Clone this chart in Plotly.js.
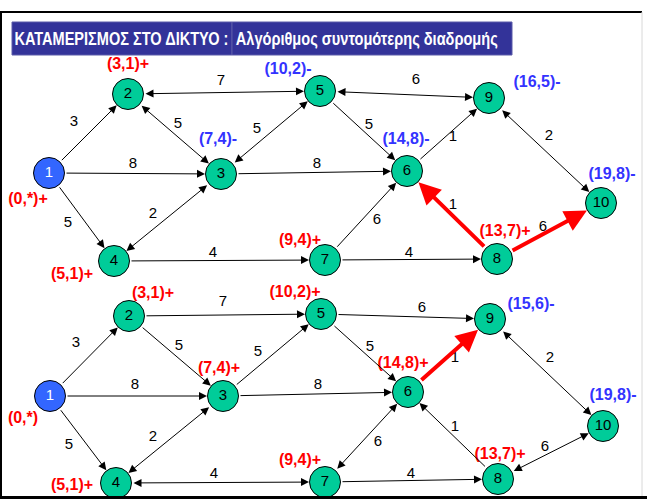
<!DOCTYPE html>
<html><head><meta charset="utf-8">
<script src="https://cdn.plot.ly/plotly-3.0.1.min.js"></script>
<style>html,body{margin:0;padding:0;background:#fff;}#chart{width:647px;height:499px;}</style>
</head><body><div id="chart"></div>
<script>
// ---- data ----
const nodeNames = ['1','2','3','4','5','6','7','8','9','10'];
const topNodeX = [49,128,221,114,320,407,325,497,489,601];
const topNodeY = [173,94,174,261,91,171,260,259,98,203];
const botNodeX = [50,129,223,116,321,408,325,498,490,603];
const botNodeY = [396,316,396,483,314,392,482,479,319,426];

// edges: from, to, weight, both directions?, highlighted?
const topEdgeFrom = [1,2,2,3,1,3,1,3,4,5,5,6,9,8,7,7,8];
const topEdgeTo   = [2,5,3,5,3,6,4,4,7,9,6,9,10,6,6,8,10];
const topWeights  = [3,7,5,5,8,8,5,2,4,6,5,1,2,1,6,4,6];
const topBoth     = [0,1,1,1,0,0,0,1,0,1,0,0,1,0,0,0,0];
const topRed      = [0,0,0,0,0,0,0,0,0,0,0,0,0,1,0,0,1];
const topWeightX  = [74,221,178,257,133,317,68,153,213,416,369,453,549,453,377,409,543];
const topWeightY  = [122,81,124,129,164,164,223,214,253,80,125,137,136,205,220,253,227];

const botEdgeFrom = [1,2,2,3,1,3,1,3,4,5,5,6,9,8,7,7,8];
const botEdgeTo   = [2,5,3,5,3,6,4,4,7,9,6,9,10,6,6,8,10];
const botWeights  = [3,7,5,5,8,8,5,2,4,6,5,1,2,1,6,4,6];
const botBoth     = [0,0,0,0,0,0,0,1,1,0,0,0,1,0,1,0,1];
const botRed      = [0,0,0,0,0,0,0,0,0,0,0,1,0,0,0,0,0];
const botWeightX  = [76,223,179,258,135,318,69,153,214,422,370,455,550,455,378,411,545];
const botWeightY  = [343,302,346,352,385,385,445,437,474,308,347,358,358,427,442,474,447];

// node labels (distance, predecessor) and status
const topLabels = ['(0,*)+','(3,1)+','(7,4)-','(5,1)+','(10,2)-','(14,8)-','(9,4)+','(13,7)+','(16,5)-','(19,8)-'];
const topLabelX = [28,128,218,72,288,406,300,505,537,612];
const topLabelY = [200,65,140,275,70,140,241,232,83,175];
const botLabels = ['(0,*)','(3,1)+','(7,4)+','(5,1)+','(10,2)+','(14,8)+','(9,4)+','(13,7)+','(15,6)-','(19,8)-'];
const botLabelX = [23,153,219,72,295,403,300,500,531,613];
const botLabelY = [419,294,369,486,293,364,461,455,305,396];

const titleLeft = 'ΚΑΤΑΜΕΡΙΣΜΟΣ ΣΤΟ ΔΙΚΤΥΟ :';
const titleRight = 'Αλγόριθμος συντομότερης διαδρομής';

// ---- drawing ----
const FONT = 'Liberation Sans, Arial, sans-serif';
const RED = '#FF0000', BLUE = '#3333FF', GREEN = '#00CC99', NODEBLUE = '#3366FF';

function labelColor(s){ return s.endsWith('-') ? BLUE : RED; }

const traces = [];
const annotations = [];

function addGraph(nx, ny, ef, et, w, both, red, wx, wy, labels, lx, ly){
  for (let i=0;i<ef.length;i++){
    const a = ef[i]-1, b = et[i]-1;
    const isRed = red[i]===1;
    annotations.push({
      x: nx[b], y: ny[b], ax: nx[a], ay: ny[a],
      xref:'x', yref:'y', axref:'x', ayref:'y',
      text:'', showarrow:true,
      arrowhead: 2, arrowsize: isRed ? 1.1 : 1.6, arrowwidth: isRed ? 4 : 1,
      startarrowhead: 2, startarrowsize: 1.6,
      arrowside: both[i] ? 'end+start' : 'end',
      arrowcolor: isRed ? RED : '#000',
      standoff: 16, startstandoff: 16
    });
  }
  traces.push({
    type:'scatter', mode:'text', x: wx, y: wy, text: w.map(String),
    textfont:{family:FONT, size:15, color:'#000'}, textposition:'middle center',
    hoverinfo:'skip', showlegend:false
  });
  traces.push({
    type:'scatter', mode:'markers+text', x: nx, y: ny, text: nodeNames,
    marker:{size:31, color: nodeNames.map((n,i)=> i===0 ? NODEBLUE : GREEN), line:{color:'#000', width:1}},
    textfont:{family:FONT, size:15, color: nodeNames.map((n,i)=> i===0 ? '#fff' : '#000')},
    textposition:'middle center', hoverinfo:'skip', showlegend:false
  });
  traces.push({
    type:'scatter', mode:'text', x: lx, y: ly, text: labels,
    textfont:{family:FONT, size:16, weight:'bold', color: labels.map(labelColor)},
    textposition:'middle center', hoverinfo:'skip', showlegend:false
  });
}

addGraph(topNodeX, topNodeY, topEdgeFrom, topEdgeTo, topWeights, topBoth, topRed, topWeightX, topWeightY, topLabels, topLabelX, topLabelY);
addGraph(botNodeX, botNodeY, botEdgeFrom, botEdgeTo, botWeights, botBoth, botRed, botWeightX, botWeightY, botLabels, botLabelX, botLabelY);

annotations.push({x:121, y:39, xref:'x', yref:'y', xanchor:'center', yanchor:'middle', text: titleLeft, showarrow:false,
  font:{family:FONT, size:18, color:'#fff', weight:'bold'}});
annotations.push({x:367, y:39, xref:'x', yref:'y', xanchor:'center', yanchor:'middle', text: titleRight, showarrow:false,
  font:{family:FONT, size:18, color:'#fff', weight:'bold'}});

const shapes = [
  {type:'rect', xref:'x', yref:'y', x0:12, x1:232, y0:22, y1:55, fillcolor:'#333399', line:{color:'#5a5aa8', width:1}, layer:'below'},
  {type:'rect', xref:'x', yref:'y', x0:232, x1:512, y0:22, y1:55, fillcolor:'#333399', line:{color:'#5a5aa8', width:1}, layer:'below'},
  {type:'line', xref:'x', yref:'y', x0:0, x1:642, y0:12, y1:12, line:{color:'#000', width:2}},
  {type:'line', xref:'x', yref:'y', x0:1, x1:1, y0:12, y1:499, line:{color:'#000', width:2}},
  {type:'line', xref:'x', yref:'y', x0:642, x1:642, y0:12, y1:497, line:{color:'#d8d8d8', width:1}},
  {type:'line', xref:'x', yref:'y', x0:0, x1:647, y0:497.5, y1:497.5, line:{color:'#000', width:3}}
];

const layout = {
  width:647, height:499, margin:{l:0,r:0,t:0,b:0,pad:0},
  paper_bgcolor:'#fff', plot_bgcolor:'#fff',
  xaxis:{range:[0,647], visible:false, fixedrange:true},
  yaxis:{range:[499,0], visible:false, fixedrange:true},
  showlegend:false, shapes:shapes, annotations:annotations
};
Plotly.newPlot('chart', traces, layout, {staticPlot:true, displayModeBar:false}).then(function(gd){
  // condense the title texts to the widths of their boxes
  const widths = {}; widths[titleLeft] = 214; widths[titleRight] = 262;
  gd.querySelectorAll('.annotation-text').forEach(function(t){
    const w = widths[t.textContent];
    if (w) { t.setAttribute('textLength', w); t.setAttribute('lengthAdjust', 'spacingAndGlyphs'); }
  });
});
</script></body></html>
